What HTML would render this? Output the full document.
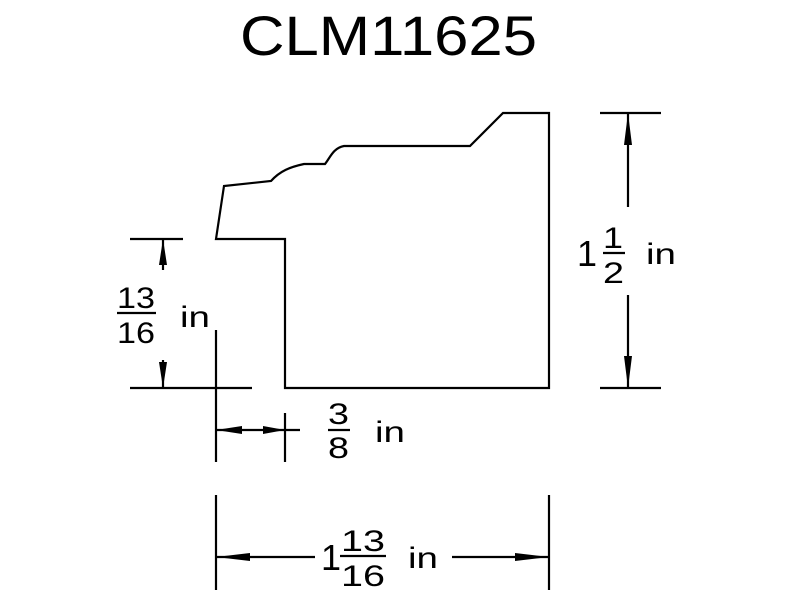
<!DOCTYPE html>
<html><head><style>body{margin:0;background:#fff}svg{display:block}</style></head><body>
<svg width="800" height="600" viewBox="0 0 800 600" xmlns="http://www.w3.org/2000/svg">
<g fill="none" stroke="#000" stroke-width="2.2">
<path d="M503,113 L549,113 L549,388 L285,388 L285,239 L216,239 L224,186 L271,181 C280,171 290,167 304,164 L325,164 C330,158 333,148 344,146 L470,146 Z" stroke-linejoin="miter"/>
<line x1="130" y1="239" x2="183" y2="239"/>
<line x1="130" y1="388" x2="252" y2="388"/>
<line x1="163" y1="239" x2="163" y2="270"/>
<line x1="163" y1="360" x2="163" y2="388"/>
<line x1="216" y1="330" x2="216" y2="462"/>
<line x1="285" y1="413" x2="285" y2="462"/>
<line x1="216" y1="430" x2="300" y2="430"/>
<line x1="600" y1="113" x2="661" y2="113"/>
<line x1="600" y1="388" x2="661" y2="388"/>
<line x1="628" y1="113" x2="628" y2="207"/>
<line x1="628" y1="295" x2="628" y2="388"/>
<line x1="216" y1="495" x2="216" y2="590"/>
<line x1="549" y1="495" x2="549" y2="590"/>
<line x1="216" y1="557" x2="315" y2="557"/>
<line x1="452" y1="557" x2="549" y2="557"/>
<line x1="117" y1="313" x2="156" y2="313"/>
<line x1="328" y1="430" x2="350" y2="430"/>
<line x1="603" y1="253" x2="625" y2="253"/>
<line x1="340" y1="556" x2="386" y2="556"/>
</g>
<g fill="#000">
<polygon points="163,239 159,265 167,265"/>
<polygon points="163,388 159,362 167,362"/>
<polygon points="216,430 242,426 242,434"/>
<polygon points="285,430 263,426 263,434"/>
<polygon points="628,113 624,145 632,145"/>
<polygon points="628,388 624,356 632,356"/>
<polygon points="216,557 250,553 250,561"/>
<polygon points="549,557 515,553 515,561"/>
</g>
<g font-family="Liberation Sans, sans-serif" fill="#000">
<text x="240" y="55" font-size="56" textLength="297" lengthAdjust="spacingAndGlyphs">CLM11625</text>
<text x="117" y="308" font-size="30" textLength="38" lengthAdjust="spacingAndGlyphs">13</text>
<text x="117" y="343" font-size="30" textLength="38" lengthAdjust="spacingAndGlyphs">16</text>
<text x="180" y="327" font-size="30" textLength="30" lengthAdjust="spacingAndGlyphs">in</text>
<text x="328" y="424" font-size="30" textLength="21" lengthAdjust="spacingAndGlyphs">3</text>
<text x="328" y="458" font-size="30" textLength="21" lengthAdjust="spacingAndGlyphs">8</text>
<text x="375" y="442" font-size="30" textLength="30" lengthAdjust="spacingAndGlyphs">in</text>
<text x="577" y="266" font-size="36">1</text>
<text x="603" y="248" font-size="30" textLength="20" lengthAdjust="spacingAndGlyphs">1</text>
<text x="603" y="283" font-size="30" textLength="21" lengthAdjust="spacingAndGlyphs">2</text>
<text x="646" y="264" font-size="30" textLength="30" lengthAdjust="spacingAndGlyphs">in</text>
<text x="321" y="570" font-size="36">1</text>
<text x="341" y="551" font-size="30" textLength="44" lengthAdjust="spacingAndGlyphs">13</text>
<text x="341" y="586" font-size="30" textLength="44" lengthAdjust="spacingAndGlyphs">16</text>
<text x="408" y="568" font-size="30" textLength="30" lengthAdjust="spacingAndGlyphs">in</text>
</g>
</svg>
</body></html>
